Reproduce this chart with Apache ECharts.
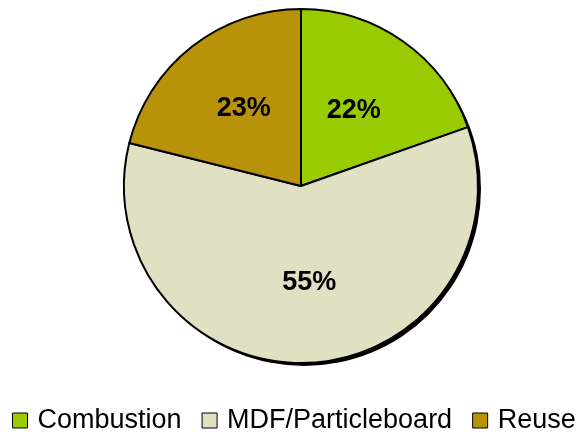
<!DOCTYPE html>
<html>
<head>
<meta charset="utf-8">
<script src="https://cdn.jsdelivr.net/npm/echarts@6/dist/echarts.min.js"></script>
<style>html,body{margin:0;padding:0;background:#fff}#c{width:576px;height:432px}</style>
</head>
<body>
<div id="c"></div>
<script>
var categories = ['Combustion', 'MDF/Particleboard', 'Reuse'];
// slice sizes as drawn in the picture
var values = [19.6, 59.3, 21.1];
// percentage labels as printed on the picture
var labelTexts = ['22%', '55%', '23%'];
var colors = ['#99CC00', '#E0E0C2', '#B8930A'];
var labelOffsets = [[0, -1], [4, 5], [-1, -5]];

var chart = echarts.init(document.getElementById('c'), null, {renderer: 'canvas'});
var data = categories.map(function (c, i) {
  return {
    name: c, value: values[i],
    itemStyle: {color: colors[i]},
    label: {offset: labelOffsets[i], formatter: labelTexts[i]}
  };
});
chart.setOption({
  animation: false,
  backgroundColor: '#fff',
  legend: {
    top: 402, left: 7, width: 575,
    itemWidth: 15, itemHeight: 15, itemGap: 20,
    icon: 'rect',
    itemStyle: {borderColor: '#000', borderWidth: 1},
    textStyle: {fontFamily: 'Liberation Sans, Arial', fontSize: 27, color: '#000', padding: [0, 0, 0, 5]},
    data: categories
  },
  series: [{
    type: 'pie',
    silent: true,
    center: [304, 189],
    radius: [0, 177],
    startAngle: 90,
    itemStyle: {color: '#000', borderWidth: 0},
    label: {show: false},
    labelLine: {show: false},
    data: [{name: 'shadow', value: 1}],
    z: 1
  }, {
    type: 'pie',
    center: [301, 186],
    radius: [0, 177],
    startAngle: 90,
    clockwise: true,
    itemStyle: {borderColor: '#000', borderWidth: 2},
    emphasis: {disabled: true},
    label: {
      show: true, position: 'inside',
      fontFamily: 'Liberation Sans, Arial', fontWeight: 'bold', fontSize: 27, color: '#000'
    },
    labelLine: {show: false},
    data: data,
    z: 2
  }]
});
</script>
</body>
</html>
